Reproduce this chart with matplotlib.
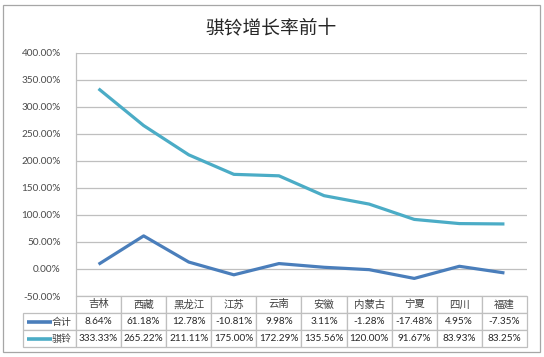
import matplotlib.pyplot as plt
from matplotlib.patches import Rectangle
from matplotlib.table import Table
from matplotlib.ticker import FuncFormatter

plt.rcParams['font.family'] = ['Lato', 'Noto Sans CJK SC', 'DejaVu Sans']

# 数据
provinces = ['吉林', '西藏', '黑龙江', '江苏', '云南', '安徽', '内蒙古', '宁夏', '四川', '福建']
heji = [8.64, 61.18, 12.78, -10.81, 9.98, 3.11, -1.28, -17.48, 4.95, -7.35]
qiling = [333.33, 265.22, 211.11, 175.00, 172.29, 135.56, 120.00, 91.67, 83.93, 83.25]
series_names = ['合计', '骐铃']
colors = ['#4a7ebb', '#4bacc6']

W, H = 544, 357
# 绘图区（像素）
L, R, T, B = 76, 527, 52.7, 296
aw, ah = R - L, B - T
fig = plt.figure(figsize=(W / 100, H / 100), dpi=100)
ax = fig.add_axes([L / W, (H - B) / H, aw / W, ah / H])

x = [i + 0.5 for i in range(len(provinces))]
ax.plot(x, heji, color=colors[0], lw=2.3, solid_capstyle='butt', zorder=3)
ax.plot(x, qiling, color=colors[1], lw=2.3, solid_capstyle='butt', zorder=3)

ax.set_xlim(0, len(provinces))
ax.set_ylim(-50, 400)
ax.set_yticks(range(-50, 401, 50))
ax.yaxis.set_major_formatter(FuncFormatter(lambda v, p: '%.2f%%' % v))
ax.tick_params(axis='y', length=0, pad=11, labelsize=7.2, labelcolor='#4a4a4a')
ax.set_xticks([])
ax.grid(axis='y', color='#bfbfbf', lw=0.9)
ax.set_axisbelow(True)
for s in ['top', 'right', 'bottom']:
    ax.spines[s].set_visible(False)
ax.spines['left'].set_color('#bfbfbf')
ax.spines['left'].set_linewidth(0.9)

# 数据表（表格左侧为图例列）
lab_w, cell_w, cell_h = 53, aw / len(provinces), 17
tb_h = 3 * cell_h
tb = Table(ax, bbox=[-lab_w / aw, -tb_h / ah, (lab_w + aw) / aw, tb_h / ah])
rows = [provinces,
        ['%.2f%%' % v for v in heji],
        ['%.2f%%' % v for v in qiling]]


def style(cell, size, cjk, color):
    cell.set_edgecolor('#bfbfbf')
    cell.set_linewidth(0.9)
    t = cell.get_text()
    t.set_fontsize(size)
    t.set_color(color)
    if cjk:
        t.set_fontfamily(['Noto Sans CJK SC'])


for r, row in enumerate(rows):
    for c, txt in enumerate(row):
        cell = tb.add_cell(r, c + 1, width=cell_w, height=cell_h, text=txt, loc='center')
        style(cell, 7.5 if r == 0 else 7.2, r == 0, '#404040' if r == 0 else '#262626')
    if r > 0:
        cell = tb.add_cell(r, 0, width=lab_w, height=cell_h, text=series_names[r - 1], loc='right')
        cell.PAD = 0.08
        style(cell, 7.2, True, '#404040')
tb.auto_set_font_size(False)
ax.add_table(tb)

# 表中的图例线
for i, col in enumerate(colors):
    yy = -tb_h / ah + (tb_h / ah) * (1.5 - i) / 3
    ax.plot([-(L - 27) / aw, -(L - 52) / aw], [yy, yy], color=col, lw=2.6,
            clip_on=False, solid_capstyle='butt', transform=ax.transAxes)

fig.text(271 / W, 1 - 27.7 / H, '骐铃增长率前十', ha='center', va='center',
         fontsize=13.5, family=['Noto Sans CJK SC'], color='#262626')

fig.patches.append(Rectangle((3 / W, 5 / H), 537 / W, 347 / H, transform=fig.transFigure,
                             fill=False, edgecolor='#a6a6a6', lw=0.9))

fig.savefig('out.png', dpi=100)
